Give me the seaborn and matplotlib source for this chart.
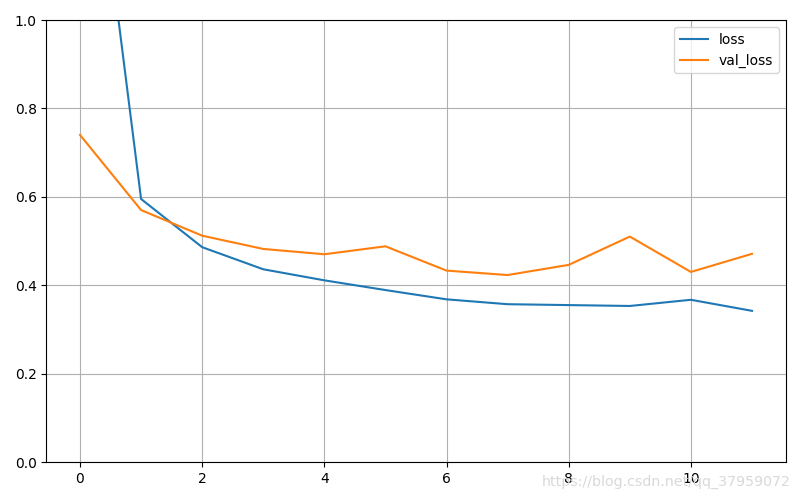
import pandas as pd
import seaborn as sns
import matplotlib.pyplot as plt

epochs = list(range(12))
loss = [1.69, 0.595, 0.486, 0.436, 0.411, 0.389, 0.368, 0.357, 0.355, 0.353, 0.367, 0.342]
val_loss = [0.740, 0.570, 0.512, 0.482, 0.470, 0.488, 0.433, 0.423, 0.446, 0.510, 0.430, 0.471]

df = pd.DataFrame({"loss": loss, "val_loss": val_loss}, index=epochs)
long_df = df.reset_index(names="epoch").melt(id_vars="epoch", var_name="series", value_name="value")

fig = plt.figure(figsize=(8, 5), dpi=100)
ax = fig.add_axes([0.058, 0.076, 0.924, 0.884])

sns.lineplot(data=long_df, x="epoch", y="value", hue="series",
             palette=["#1f77b4", "#ff7f0e"], linewidth=1.5, ax=ax)

ax.set_ylim(0, 1)
ax.set_xlim(-0.55, 11.55)
ax.grid(True, color="#b0b0b0", linewidth=0.8)
ax.set_xlabel("")
ax.set_ylabel("")
ax.legend(loc="upper right", title=None)

# faint watermark at the bottom right, as in the source image
fig.text(0.988, 0.036, "https://blog.csdn.net/qq_37959072", ha="right", va="center",
         fontsize=10.2, color="#d9d9d9")

plt.savefig("out.png", dpi=100)
